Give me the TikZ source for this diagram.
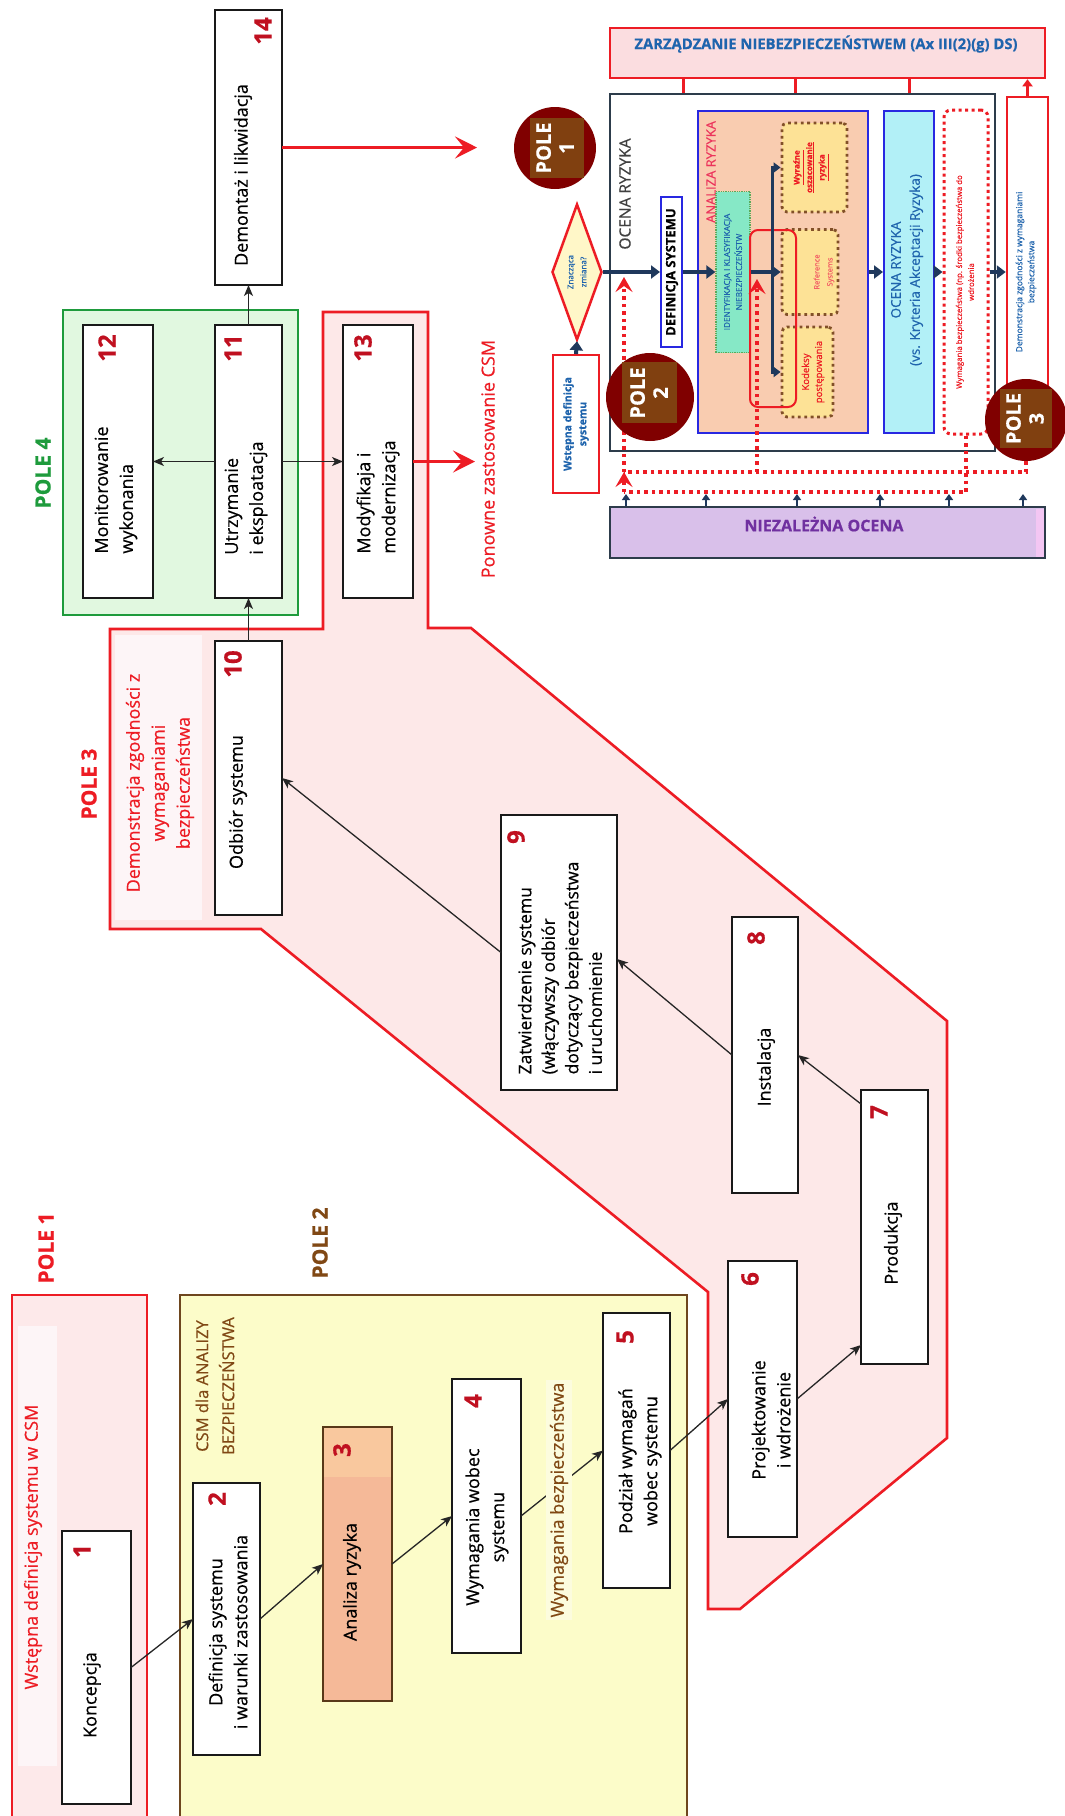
\documentclass[tikz,border=0pt]{standalone}
\usepackage{fontspec}
\setmainfont{Open Sans}[FakeBold=0.5]
\usetikzlibrary{arrows.meta,shapes.geometric,calc}
\definecolor{pred}{RGB}{237,28,36}
\definecolor{numred}{RGB}{192,16,32}
\definecolor{p1fill}{RGB}{253,233,234}
\definecolor{p1strip}{RGB}{253,245,247}
\definecolor{p2fill}{RGB}{252,252,201}
\definecolor{p2light}{RGB}{252,252,222}
\definecolor{p2line}{RGB}{110,70,30}
\definecolor{p2text}{RGB}{128,72,20}
\definecolor{p3fill}{RGB}{253,232,232}
\definecolor{p4fill}{RGB}{225,248,224}
\definecolor{p4line}{RGB}{30,155,60}
\definecolor{salmon}{RGB}{245,185,152}
\definecolor{salmonl}{RGB}{249,200,158}
\definecolor{navy}{RGB}{31,56,92}
\definecolor{tblue}{RGB}{31,100,173}
\definecolor{bblue}{RGB}{40,40,225}
\definecolor{peach}{RGB}{249,204,176}
\definecolor{mint}{RGB}{134,232,198}
\definecolor{mintline}{RGB}{90,170,90}
\definecolor{ylw}{RGB}{253,226,150}
\definecolor{dbrown}{RGB}{130,80,40}
\definecolor{cyanf}{RGB}{178,240,247}
\definecolor{lav}{RGB}{217,192,234}
\definecolor{lavpink}{RGB}{243,198,243}
\definecolor{purp}{RGB}{112,48,160}
\definecolor{zarzf}{RGB}{251,221,224}
\definecolor{darkred}{RGB}{128,0,0}
\definecolor{sqbrown}{RGB}{128,64,16}
\definecolor{pinkred}{RGB}{236,52,92}
\definecolor{slate}{RGB}{45,60,75}
\definecolor{dyel}{RGB}{255,247,200}
\pgfdeclarelayer{fg}
\pgfsetlayers{main,fg}
\begin{document}
\begin{tikzpicture}[x=1pt,y=-1pt,
  sz/.style 2 args={minimum width=#1pt, minimum height=#2pt},
  box/.style={rectangle, draw=black!90, line width=2.5pt, fill=white, inner sep=0pt, outer sep=0pt},
  txt/.style={rotate=90, font=\fontsize{18}{25}\selectfont, align=center, inner sep=0pt},
  txtl/.style={txt, align=left},
  rtxt/.style={rotate=90, align=center, inner sep=0pt},
  num/.style={rotate=90, font=\fontsize{24}{24}\selectfont\bfseries, text=numred, inner sep=0pt},
  pole/.style={rotate=90, font=\fontsize{21}{21}\selectfont\bfseries, inner sep=0pt},
  arr/.style={draw=black!85, line width=1.3pt, -{Stealth[length=11pt,width=9pt,inset=3pt]}},
  redarr/.style={draw=pred, line width=3pt, -{Stealth[length=22pt,width=22pt,inset=9pt]}},
  navyarr/.style={draw=navy, line width=4pt, -{Triangle[length=9pt,width=13pt]}},
  navysmall/.style={draw=navy, line width=3pt, -{Triangle[length=7pt,width=10pt]}},
  navytick/.style={draw=navy, line width=2.5pt, -{Triangle[length=6pt,width=8pt]}},
  redtick/.style={draw=pred, line width=3pt},
  reddot/.style={draw=pred, line width=3.5pt, dash pattern=on 3.5pt off 4pt},
  reddotarr/.style={reddot, -{Stealth[length=15pt,width=17pt,inset=6pt]}},
  bdot/.style={rectangle, draw=dbrown, line width=2.8pt, dash pattern=on 2.8pt off 3.6pt, rounded corners=5pt, fill=ylw, inner sep=0pt},
  pcirc/.style={circle, fill=darkred, inner sep=0pt},
  psq/.style={rectangle, fill=sqbrown, inner sep=0pt},
  ptxt/.style={rotate=90, text=white, font=\fontsize{20}{23}\selectfont\bfseries, align=center, inner sep=0pt}
]
\useasboundingbox (0,0) rectangle (1065,1816);
\fill[white] (0,0) rectangle (1065,1816);

% ---------- POLE 1 region
\draw[fill=p1fill, draw=pred, line width=2.6pt] (12,1830) rectangle (147,1295);
\fill[p1strip] (18,1326) rectangle (57,1766);
\node[pole, text=pred] (pole1) at (46,1248) {POLE 1};
\node[txt, text=pred] (p1lab) at (33,1547) {Wstępna definicja systemu w CSM};

% ---------- POLE 2 region
\draw[fill=p2fill, draw=p2line, line width=2.6pt] (180,1830) rectangle (687,1295);
\node[pole, text=p2text] (pole2) at (320,1243) {POLE 2};
\node[txt, text=p2text, font=\fontsize{16.5}{26}\selectfont] (p2lab) at (215,1386) {CSM dla ANALIZY\\BEZPIECZEŃSTWA};

% ---------- POLE 3 region
\draw[fill=p3fill, draw=pred, line width=2.6pt, line join=miter]
  (323,312) -- (428,312) -- (428,628) -- (471,628) -- (947,1021) -- (947,1438)
  -- (740,1609) -- (708,1609) -- (708,1292) -- (261,929) -- (110,929) -- (110,629)
  -- (323,629) -- cycle;
\fill[p1strip] (115,635) rectangle (202,920);
\node[pole, text=pred] (pole3) at (89,784) {POLE 3};
\node[txt, text=pred] (p3lab) at (160,783) {Demonstracja zgodności z\\wymaganiami\\bezpieczeństwa};

% ---------- POLE 4 region
\draw[fill=p4fill, draw=p4line, line width=2.6pt] (63,310) rectangle (298,615);
\node[pole, text=p4line] (pole4) at (43,473) {POLE 4};

% ---------- lifecycle boxes
\node[box, sz={69}{273}] (b1) at (96.5,1667.5) {};
\node[txt] (b1t) at (92,1695) {Koncepcja};
\node[num] (b1n) at (82,1551) {1};

\node[box, sz={67}{272}] (b2) at (226.5,1619) {};
\node[txt] (b2t) at (228,1632) {Definicja systemu\\i warunki zastosowania};
\node[num] (b2n) at (217,1499) {2};

\node[box, fill=salmon, draw=p2line!80!black, sz={69}{274}] (b3) at (357.5,1564) {};
\fill[salmonl] ($(b3.north west)+(1.3,1.3)$) rectangle ($(b3.north east)+(-1.3,50)$);
\node[txt] (b3t) at (352,1582) {Analiza ryzyka};
\node[num] (b3n) at (342,1450) {3};

\node[box, sz={69}{274}] (b4) at (486.5,1516) {};
\node[txt] (b4t) at (487,1527) {Wymagania wobec\\systemu};
\node[num] (b4n) at (473,1401) {4};

\node[box, sz={67}{275}] (b5) at (636.5,1450.5) {};
\node[txt] (b5t) at (640,1461) {Podział wymagań\\wobec systemu};
\node[num] (b5n) at (625,1337) {5};

\node[box, sz={69}{276}] (b6) at (762.5,1399) {};
\node[txt] (b6t) at (771,1420) {Projektowanie\\i wdrożenie};
\node[num] (b6n) at (750,1279) {6};

\node[box, sz={67}{274}] (b7) at (894.5,1227) {};
\node[txt] (b7t) at (893,1243) {Produkcja};
\node[num] (b7n) at (879,1112) {7};

\node[box, sz={66}{276}] (b8) at (765,1055) {};
\node[txt] (b8t) at (766,1067) {Instalacja};
\node[num] (b8n) at (756,938) {8};

\node[box, sz={116}{275}] (b9) at (559,952.5) {};
\node[txtl, font=\fontsize{17.5}{23.5}\selectfont] (b9t) at (560,968) {Zatwierdzenie systemu\\(włączywszy odbiór\\dotyczący bezpieczeństwa\\i uruchomienie};
\node[num] (b9n) at (516,837) {9};

\node[box, sz={67}{274}] (b10) at (248.5,778) {};
\node[txt] (b10t) at (238,802) {Odbiór systemu};
\node[num] (b10n) at (233,664) {10};

\node[box, sz={67}{273}] (b11) at (248.5,461.5) {};
\node[txtl] (b11t) at (246,498) {Utrzymanie\\i eksploatacja};
\node[num] (b11n) at (233,348) {11};

\node[box, sz={70}{273}] (b12) at (118,461.5) {};
\node[txtl] (b12t) at (116,490) {Monitorowanie\\wykonania};
\node[num] (b12n) at (107,348) {12};

\node[box, sz={70}{273}] (b13) at (378,461.5) {};
\node[txtl] (b13t) at (378,497) {Modyfikaja i\\modernizacja};
\node[num] (b13n) at (363,348) {13};

\node[box, sz={67}{275}] (b14) at (248.5,147.5) {};
\node[txt] (b14t) at (243,175) {Demontaż i likwidacja};
\node[num] (b14n) at (263,31) {14};

% ---------- lifecycle connectors
\draw[arr] (b1.east) -- (b2.west);
\draw[arr] (b2.east) -- (b3.west);
\draw[arr] (b3.east) -- (b4.west);
\draw[arr] (b4.east) -- (b5.west);
\node[rtxt, fill=p2light, inner xsep=3pt, inner ysep=4pt, text=p2text, font=\fontsize{18}{22}\selectfont] (wbez) at (559,1500) {Wymagania bezpieczeństwa};
\draw[arr] (b5.east) -- (b6.west);
\draw[arr] (b6.east) -- ([yshift=-118pt]b7.west);
\draw[arr] ([yshift=123pt]b7.west) -- (b8.east);
\draw[arr] (b8.west) -- ([yshift=-6.5pt]b9.east);
\draw[arr] (b9.west) -- (b10.east);
\draw[arr] (b10.north) -- (b11.south);
\draw[arr] (b11.west) -- (b12.east);
\draw[arr] (b11.east) -- (b13.west);
\draw[arr] (b11.north) -- (b14.south);

\coordinate (r14) at (477,147.5);
\coordinate (r13) at (475,461.5);
\draw[redarr] (b14.east) -- (r14);
\draw[redarr] (b13.east) -- (r13);
\node[txt, text=pred] (ponow) at (488,459) {Ponowne zastosowanie CSM};

% ---------- right panel
\node[rectangle, draw=pred, line width=2.5pt, fill=zarzf, sz={435}{50}, inner sep=0pt] (zarz) at (827.5,53) {};
\node[font=\fontsize{14.8}{17}\selectfont\bfseries, text=tblue, inner sep=0pt] (zarzt) at (826,44) {ZARZĄDZANIE NIEBEZPIECZEŃSTWEM (Ax III(2)(g) DS)};

\node[rectangle, draw=slate, line width=2pt, fill=white, sz={385}{357}, inner sep=0pt] (ocena) at (802.5,272) {};
\node[rotate=90, font=\fontsize{15.5}{18}\selectfont, text=black!75, inner sep=0pt] (ocenat) at (625,194) {OCENA RYZYKA};

\node[rectangle, draw=pred, line width=2.5pt, fill=white, sz={41}{350}, inner sep=0pt] (dem) at (1027.5,272) {};
\node[rtxt, font=\fontsize{8.5}{12}\selectfont, text=tblue] (demt) at (1026,272) {Demonstracja zgodności z wymaganiami\\bezpieczeństwa};

\node[rectangle, draw=slate, line width=2pt, fill=lav, sz={435}{51}, inner sep=0pt] (niez) at (827.5,532.5) {};
\fill[lavpink] (1036,509) rectangle (1043.5,556.5);
\node[font=\fontsize{16}{18}\selectfont\bfseries, text=purp, inner sep=0pt] (niezt) at (824,524) {NIEZALEŻNA OCENA};

\node[rectangle, draw=pred, line width=2pt, fill=white, sz={46}{138}, inner sep=0pt] (wst) at (576,424) {};
\node[rtxt, font=\fontsize{10.5}{15}\selectfont\bfseries, text=tblue] (wstt) at (576,424) {Wstępna definicja\\systemu};

\node[diamond, draw=pred, line width=2.5pt, fill=dyel, inner sep=0pt, minimum width=50pt, minimum height=136pt] (diam) at (577,272) {};
\node[rtxt, font=\fontsize{8}{13}\selectfont, text=tblue] (diamt) at (577,272) {Znacząca\\zmiana?};

\node[rectangle, draw=bblue, line width=2pt, fill=white, sz={21}{150}, inner sep=0pt] (defs) at (671.5,272) {};
\node[rtxt, font=\fontsize{13}{15}\selectfont\bfseries] (defst) at (672,272) {DEFINICJA SYSTEMU};

\node[rectangle, draw=bblue, line width=2pt, fill=peach, sz={170}{322}, inner sep=0pt] (anal) at (783,272) {};
\node[rtxt, font=\fontsize{13}{15}\selectfont, text=pinkred] (analt) at (711,172) {ANALIZA RYZYKA};

\node[rectangle, draw=mintline, line width=1.3pt, densely dotted, fill=mint, sz={34}{161}, inner sep=0pt] (ident) at (733,272) {};
\node[rtxt, font=\fontsize{8.2}{12}\selectfont, text=tblue] (identt) at (733,272) {IDENTYFIKACJA I KLASYFIKACJA\\NIEBEZPIECZEŃSTW};

\node[bdot, sz={65}{89}] (wyr) at (814.5,167.5) {};
\node[rtxt, font=\fontsize{8}{12.5}\selectfont\bfseries, text=pred] (wyrt) at (811,167.5) {\underline{Wyraźne}\\\underline{oszacowanie}\\\underline{ryzyka}};

\node[bdot, sz={56}{85}] (ref) at (810,272) {};
\node[rtxt, font=\fontsize{7.5}{13}\selectfont, text=pred!70] (reft) at (824,272) {Reference\\Systems};

\node[bdot, sz={51}{90}] (kod) at (807.5,372) {};
\node[rtxt, font=\fontsize{9.5}{13}\selectfont, text=pred] (kodt) at (813,372) {Kodeksy\\postępowania};

\node[rectangle, draw=pred, line width=2pt, rounded corners=8pt, sz={46}{177}, inner sep=0pt] (redr) at (773,318.5) {};

\node[rectangle, draw=bblue, line width=2pt, fill=cyanf, sz={50}{322}, inner sep=0pt] (ocr) at (909,272) {};
\node[rtxt, font=\fontsize{13.5}{19}\selectfont, text=tblue] (ocrt) at (907,270) {OCENA RYZYKA\\(vs. Kryteria Akceptacji Ryzyka)};

\node[rectangle, draw=pred, line width=3pt, dash pattern=on 3pt off 3.5pt, rounded corners=7pt, fill=white, sz={44}{324}, inner sep=0pt] (rdb) at (966,272) {};
\node[rtxt, font=\fontsize{7.8}{12}\selectfont, text=pred] (rdbt) at (965,282) {Wymagania bezpieczeństwa (np. środki bezpieczeństwa do\\wdrożenia};

% circles on foreground layer
\begin{pgfonlayer}{fg}
\node[pcirc, minimum size=82pt] (p1c) at (555,148) {};
\node[psq, sz={54}{60}] (p1s) at (557,148) {};
\node[ptxt] (p1t) at (555,148) {POLE\\1};
\node[pcirc, minimum size=88pt] (p2c) at (650,397) {};
\node[psq, sz={55}{61}] (p2s) at (649.5,392.5) {};
\node[ptxt] (p2t) at (649,393) {POLE\\2};
\node[pcirc, minimum size=82pt] (p3c) at (1026,420) {};
\node[psq, sz={52}{59}] (p3s) at (1026,418.5) {};
\node[ptxt] (p3t) at (1025,418.5) {POLE\\3};
\end{pgfonlayer}

% navy main flow
\draw[navyarr] (wst.north) -- (diam.south);
\draw[navyarr] (diam.east) -- (defs.west);
\draw[navyarr] (defs.east) -- (ident.west);
\draw[navyarr] (ident.east) -- (ref.west);
\coordinate (split) at (772,272);
\draw[navysmall] (split) |- (wyr.west);
\draw[navysmall] (split) |- (kod.west);
\draw[navyarr] (anal.east) -- (ocr.west);
\draw[navyarr] (ocr.east) -- (rdb.west);
\draw[navyarr] (rdb.east) -- (dem.west);

% ticks to ZARZADZANIE
\coordinate (z1) at (683,0);
\coordinate (z2) at (795,0);
\coordinate (z3) at (909,0);
\draw[redtick] (zarz.south -| z1) -- (ocena.north -| z1);
\draw[redtick] (zarz.south -| z2) -- (ocena.north -| z2);
\draw[redtick] (zarz.south -| z3) -- (ocena.north -| z3);
\draw[redtick, -{Triangle[length=7pt,width=10pt]}] (dem.north) -- (zarz.south -| dem.north);

% ticks from NIEZALEZNA OCENA
\coordinate (n1) at (626,494);
\coordinate (n2) at (706,494);
\coordinate (n3) at (797,494);
\coordinate (n4) at (880,494);
\coordinate (n5) at (949,494);
\coordinate (n6) at (1023,494);
\foreach \n in {n1,n2,n3,n4,n5,n6}{\draw[navytick] (niez.north -| \n) -- (\n);}

% red dotted feedback lines
\coordinate (jA) at (624,492);
\coordinate (jB) at (624,472);
\coordinate (jT) at (624,277);
\coordinate (jM) at (757,472);
\coordinate (jMT) at (757,279);
\draw[reddot] (rdb.south) |- (jA);
\draw[reddot] (p3c.south) |- (jB);
\draw[reddotarr] (jA) -- (jB);
\draw[reddotarr] (jB) -- (jT);
\draw[reddotarr] (jM) -- (jMT);
\end{tikzpicture}
\end{document}
